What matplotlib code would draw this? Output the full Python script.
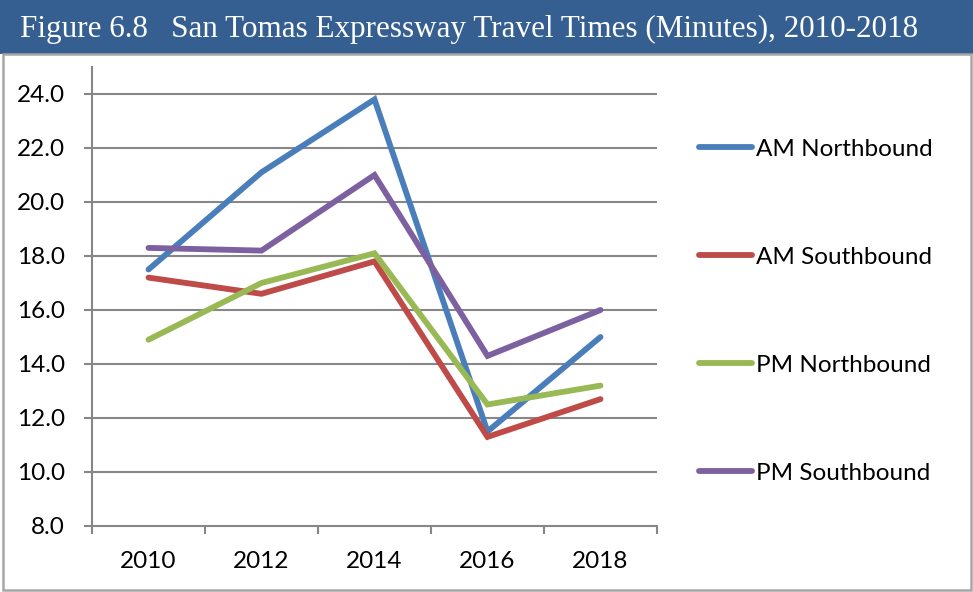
import matplotlib
matplotlib.use("Agg")
import matplotlib.pyplot as plt
from matplotlib.patches import Rectangle

years = ["2010", "2012", "2014", "2016", "2018"]
series_names = ["AM Northbound", "AM Southbound", "PM Northbound", "PM Southbound"]
am_north = [17.5, 21.1, 23.8, 11.5, 15.0]
am_south = [17.2, 16.6, 17.8, 11.3, 12.7]
pm_north = [14.9, 17.0, 18.1, 12.5, 13.2]
pm_south = [18.3, 18.2, 21.0, 14.3, 16.0]
colors = ["#4A7EBB", "#BE4B48", "#98B954", "#7D60A0"]
y_ticks = [8, 10, 12, 14, 16, 18, 20, 22, 24]

title = "Figure 6.8   San Tomas Expressway Travel Times (Minutes), 2010-2018"

W, H = 973, 592
fig = plt.figure(figsize=(W / 100, H / 100), dpi=100)
fig.patch.set_facecolor("white")

# title banner and outer frame
fig.patches.append(Rectangle((0, 1 - 54 / H), 1, 54 / H, transform=fig.transFigure,
                             facecolor="#365F91", edgecolor="none", zorder=0))
fig.patches.append(Rectangle((3 / W, 2 / H), 968 / W, (H - 54 - 2) / H,
                             transform=fig.transFigure, facecolor="none",
                             edgecolor="#A6A6A6", linewidth=1.8, zorder=0))
fig.text(20 / W, 1 - 29.5 / H, title, color="white", fontsize=22.4,
         family="Liberation Serif", va="center", ha="left")

ax = fig.add_axes([92 / W, (H - 526) / H, (657 - 92) / W, (526 - 67) / H])
x = list(range(len(years)))
for vals, name, c in zip([am_north, am_south, pm_north, pm_south], series_names, colors):
    ax.plot(x, vals, color=c, lw=4.2, solid_capstyle="round",
            solid_joinstyle="miter", label=name, zorder=3)

ax.set_xlim(-0.5, len(years) - 0.5)
ax.set_ylim(8, 25)
ax.set_yticks(y_ticks)
ax.set_yticklabels([f"{v:.1f}" for v in y_ticks])
ax.set_xticks(x)
ax.set_xticklabels(years)
ax.set_xticks([i - 0.5 for i in range(len(years) + 1)], minor=True)
ax.tick_params(axis="x", which="major", length=0, pad=18)
ax.tick_params(axis="x", which="minor", length=6, width=1.5, color="#878787", direction="out")
ax.tick_params(axis="y", length=6, width=1.5, color="#878787", direction="out", pad=13.5)
for lab in ax.get_xticklabels() + ax.get_yticklabels():
    lab.set_family("Lato")
    lab.set_fontsize(17.5)

for v in y_ticks[1:]:
    ax.axhline(v, color="#878787", lw=1.5, zorder=1)
for side in ["top", "right"]:
    ax.spines[side].set_visible(False)
for side in ["left", "bottom"]:
    ax.spines[side].set_color("#878787")
    ax.spines[side].set_linewidth(1.5)

leg = fig.legend(loc="upper left", bbox_to_anchor=(677 / W, 1 - 117 / H),
                 frameon=False, prop={"family": "Lato", "size": 17.5},
                 handlelength=2.2, handletextpad=0.15, labelspacing=3.58)

fig.savefig("out.png", dpi=100)
